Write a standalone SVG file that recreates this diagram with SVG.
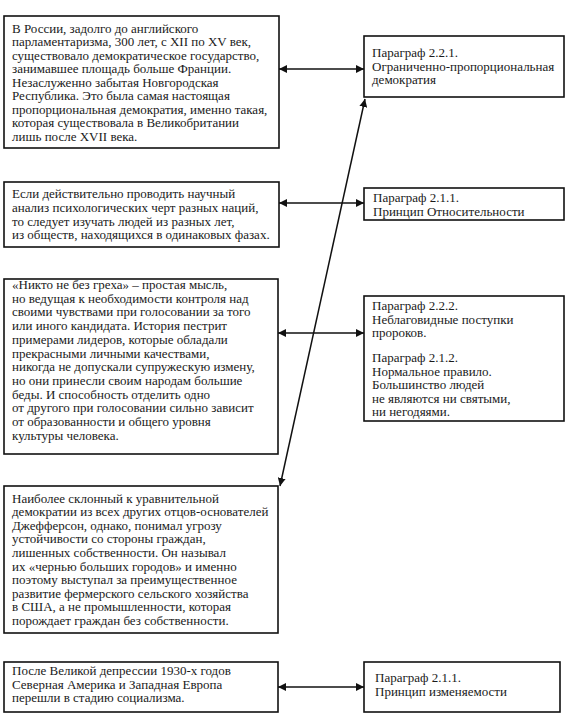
<svg xmlns="http://www.w3.org/2000/svg" width="577" height="728" viewBox="0 0 577 728">
<style>
.box{fill:#fff;stroke:#111;stroke-width:1.6}
.t{font-family:"Liberation Serif","Times New Roman",serif;font-size:13px;fill:#1a1a1a}
.c{stroke:#111;stroke-width:1.5;fill:none}
</style>
<defs>
<marker id="ah" viewBox="0 0 10 10" refX="10" refY="5" markerWidth="8" markerHeight="8" markerUnits="userSpaceOnUse" orient="auto-start-reverse">
<path d="M0,0 L10,5 L0,10 z" fill="#111"/>
</marker>
</defs>
<rect width="577" height="728" fill="#fff"/>

<g id="connectors">
<line class="c" x1="279" y1="69" x2="364" y2="69" marker-start="url(#ah)" marker-end="url(#ah)"/>
<line class="c" x1="279" y1="203" x2="364" y2="203" marker-start="url(#ah)" marker-end="url(#ah)"/>
<line class="c" x1="278" y1="333" x2="364" y2="333" marker-start="url(#ah)" marker-end="url(#ah)"/>
<line class="c" x1="278" y1="687" x2="364" y2="687" marker-start="url(#ah)" marker-end="url(#ah)"/>
<line class="c" x1="280" y1="486" x2="365" y2="99" marker-start="url(#ah)" marker-end="url(#ah)"/>
</g>

<g id="box1">
<rect class="box" x="4" y="16" width="275" height="132"/>
<text class="t" x="12" y="32.5"><tspan x="12">В России, задолго до английского</tspan><tspan x="12" dy="13.55">парламентаризма, 300 лет, с XII по XV век,</tspan><tspan x="12" dy="13.55">существовало демократическое государство,</tspan><tspan x="12" dy="13.55">занимавшее площадь больше Франции.</tspan><tspan x="12" dy="13.55">Незаслуженно забытая Новгородская</tspan><tspan x="12" dy="13.55">Республика. Это была самая настоящая</tspan><tspan x="12" dy="13.55">пропорциональная демократия, именно такая,</tspan><tspan x="12" dy="13.55">которая существовала в Великобритании</tspan><tspan x="12" dy="13.55">лишь после XVII века.</tspan></text>
</g>

<g id="right1">
<rect class="box" x="364" y="36" width="200" height="61"/>
<text class="t" x="372" y="57"><tspan x="372">Параграф 2.2.1.</tspan><tspan x="372" dy="13.6">Ограниченно-пропорциональная</tspan><tspan x="372" dy="13.6">демократия</tspan></text>
</g>

<g id="box2">
<rect class="box" x="4" y="182" width="275" height="65"/>
<text class="t" x="12" y="198"><tspan x="12">Если действительно проводить научный</tspan><tspan x="12" dy="13.8">анализ психологических черт разных наций,</tspan><tspan x="12" dy="13.8">то следует изучать людей из разных лет,</tspan><tspan x="12" dy="13.8">из обществ, находящихся в одинаковых фазах.</tspan></text>
</g>

<g id="right2">
<rect class="box" x="364" y="188" width="200" height="32"/>
<text class="t" x="373" y="202"><tspan x="373">Параграф 2.1.1.</tspan><tspan x="373" dy="13.6">Принцип Относительности</tspan></text>
</g>

<g id="box3">
<rect class="box" x="4" y="279" width="274" height="175"/>
<text class="t" x="12" y="289"><tspan x="12">«Никто не без греха» – простая мысль,</tspan><tspan x="12" dy="13.7">но ведущая к необходимости контроля над</tspan><tspan x="12" dy="13.7">своими чувствами при голосовании за того</tspan><tspan x="12" dy="13.7">или иного кандидата. История пестрит</tspan><tspan x="12" dy="13.7">примерами лидеров, которые обладали</tspan><tspan x="12" dy="13.7">прекрасными личными качествами,</tspan><tspan x="12" dy="13.7">никогда не допускали супружескую измену,</tspan><tspan x="12" dy="13.7">но они принесли своим народам большие</tspan><tspan x="12" dy="13.7">беды. И способность отделить одно</tspan><tspan x="12" dy="13.7">от другого при голосовании сильно зависит</tspan><tspan x="12" dy="13.7">от образованности и общего уровня</tspan><tspan x="12" dy="13.7">культуры человека.</tspan></text>
</g>

<g id="right3">
<rect class="box" x="364" y="296" width="200" height="125"/>
<text class="t" x="372" y="310"><tspan x="372">Параграф 2.2.2.</tspan><tspan x="372" dy="13.6">Неблаговидные поступки</tspan><tspan x="372" dy="13.6">пророков.</tspan></text>
<text class="t" x="372" y="362"><tspan x="372">Параграф 2.1.2.</tspan><tspan x="372" dy="13.6">Нормальное правило.</tspan><tspan x="372" dy="13.6">Большинство людей</tspan><tspan x="372" dy="13.6">не являются ни святыми,</tspan><tspan x="372" dy="13.6">ни негодяями.</tspan></text>
</g>

<g id="box4">
<rect class="box" x="4" y="486" width="274" height="147"/>
<text class="t" x="12" y="502.5"><tspan x="12">Наиболее склонный к уравнительной</tspan><tspan x="12" dy="13.6">демократии из всех других отцов-основателей</tspan><tspan x="12" dy="13.6">Джефферсон, однако, понимал угрозу</tspan><tspan x="12" dy="13.6">устойчивости со стороны граждан,</tspan><tspan x="12" dy="13.6">лишенных собственности. Он называл</tspan><tspan x="12" dy="13.6">их «чернью больших городов» и именно</tspan><tspan x="12" dy="13.6">поэтому выступал за преимущественное</tspan><tspan x="12" dy="13.6">развитие фермерского сельского хозяйства</tspan><tspan x="12" dy="13.6">в США, а не промышленности, которая</tspan><tspan x="12" dy="13.6">порождает граждан без собственности.</tspan></text>
</g>

<g id="box5">
<rect class="box" x="4" y="662" width="274" height="50"/>
<text class="t" x="12" y="675"><tspan x="12">После Великой депрессии 1930-х годов</tspan><tspan x="12" dy="13.6">Северная Америка и Западная Европа</tspan><tspan x="12" dy="13.6">перешли в стадию социализма.</tspan></text>
</g>

<g id="right5">
<rect class="box" x="364" y="662" width="196" height="50"/>
<text class="t" x="375" y="682"><tspan x="375">Параграф 2.1.1.</tspan><tspan x="375" dy="14">Принцип изменяемости</tspan></text>
</g>
</svg>
